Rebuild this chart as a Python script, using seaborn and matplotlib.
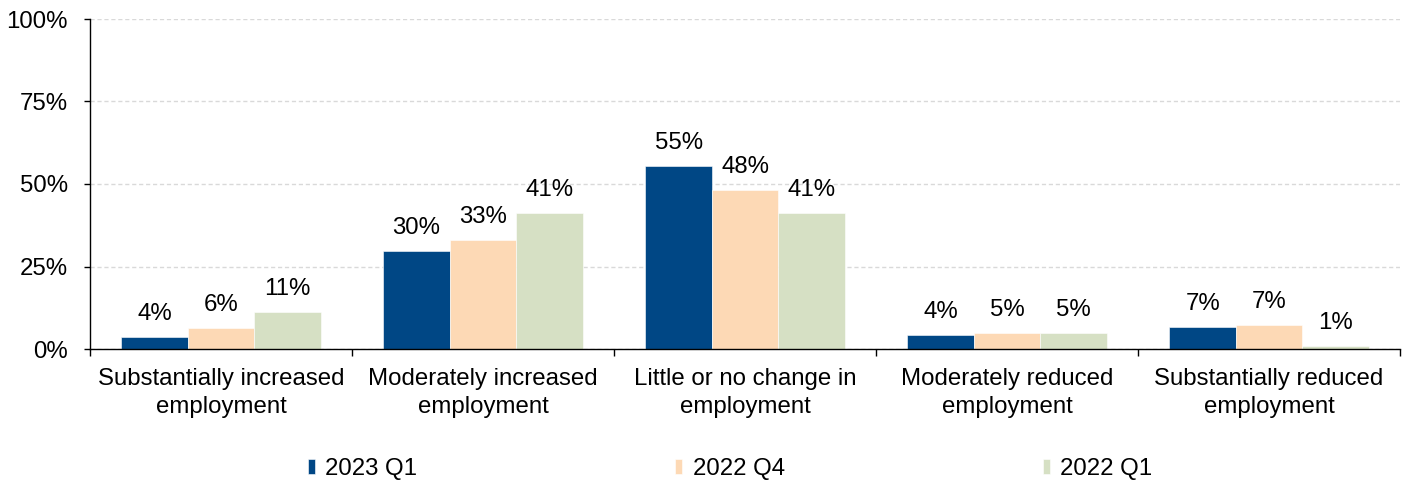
import matplotlib
matplotlib.use("Agg")
import matplotlib.pyplot as plt
import seaborn as sns
import pandas as pd
from matplotlib.ticker import FixedLocator, NullFormatter

categories = [
    "Substantially increased\nemployment",
    "Moderately increased\nemployment",
    "Little or no change in\nemployment",
    "Moderately reduced\nemployment",
    "Substantially reduced\nemployment",
]
periods = ["2023 Q1", "2022 Q4", "2022 Q1"]
q1_2023 = [3.6, 29.7, 55.4, 4.3, 6.6]
q4_2022 = [6.4, 33.0, 48.2, 4.8, 7.2]
q1_2022 = [11.2, 41.2, 41.2, 4.8, 0.9]
colors = ["#004785", "#FDD9B5", "#D6E0C4"]
yticks = [0, 25, 50, 75, 100]

series = [q1_2023, q4_2022, q1_2022]
df = pd.DataFrame({
    "category": [c for _ in periods for c in categories],
    "period": [p for p in periods for _ in categories],
    "value": [v for s in series for v in s],
})

FS = 17.3

sns.set_theme(style="white")
plt.rcParams["font.family"] = ["Liberation Sans", "DejaVu Sans"]
plt.rcParams["font.size"] = FS
plt.rcParams["text.color"] = "black"
plt.rcParams["xtick.color"] = "black"
plt.rcParams["ytick.color"] = "black"

fig = plt.figure(figsize=(14.04, 4.83), dpi=100)
ax = fig.add_axes([90 / 1404, 1 - 349 / 483, 1310 / 1404, 330 / 483])

sns.barplot(data=df, x="category", y="value", hue="period",
            hue_order=periods, palette=colors, width=0.76, gap=0,
            saturation=1, ax=ax, legend=True, zorder=2,
            edgecolor="white", linewidth=0.4)

# value labels above each bar
for container, vals in zip(ax.containers, series):
    for bar, v in zip(container, vals):
        ax.annotate(f"{v:.0f}%", (bar.get_x() + bar.get_width() / 2, v),
                    xytext=(0, 12.2), textcoords="offset points",
                    ha="center", va="baseline", fontsize=FS, color="black")

ax.set_ylim(0, 100)
ax.set_xlim(-0.5, len(categories) - 0.5)
ax.set_yticks(yticks)
ax.set_yticklabels([f"{t}%" for t in yticks])
ax.yaxis.grid(True, color="#D9D9D9", linestyle=(0, (3, 2)), linewidth=1)
ax.set_axisbelow(True)

# category boundary ticks, labels centred under each group
ax.xaxis.set_major_locator(FixedLocator([i - 0.5 for i in range(len(categories) + 1)]))
ax.xaxis.set_major_formatter(NullFormatter())
ax.xaxis.set_minor_locator(FixedLocator(list(range(len(categories)))))
ax.set_xticklabels(categories, minor=True, linespacing=1.35)
ax.tick_params(axis="x", which="major", direction="out", length=5, width=1, color="black", bottom=True)
ax.tick_params(axis="x", which="minor", length=0, pad=13.5, labelsize=FS, labelcolor="black")
ax.tick_params(axis="y", direction="out", length=4.5, width=1, color="black", left=True, pad=11.5,
               labelsize=FS, labelcolor="black")

for side in ["top", "right"]:
    ax.spines[side].set_visible(False)
for side in ["left", "bottom"]:
    ax.spines[side].set_color("black")
    ax.spines[side].set_linewidth(1)

ax.set_xlabel("")
ax.set_ylabel("")

handles, labels = ax.get_legend_handles_labels()
ax.get_legend().remove()
leg = fig.legend(handles, labels, loc="center", bbox_to_anchor=(730 / 1404, 1 - 469 / 483),
                 ncol=3, frameon=False, fontsize=FS, handlelength=0.3, handleheight=0.55,
                 handletextpad=0.42, columnspacing=10.75, borderaxespad=0)
for t in leg.get_texts():
    t.set_color("black")

fig.savefig("out.png", dpi=100)
